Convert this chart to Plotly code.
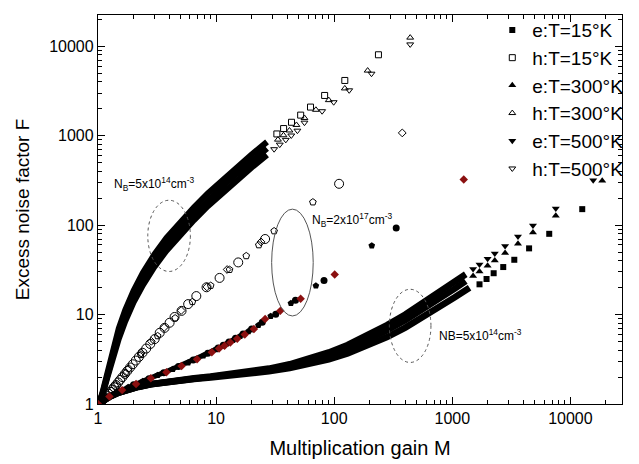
import plotly.graph_objects as go

# ---------------- data ----------------
# N_B = 5e14, electron injection (lower curves). "band" = points so close that the markers merge.
e15_band_M = [1, 1.1, 1.25, 1.5, 1.8, 2.2, 2.8, 3.6, 4.8, 6.5, 9, 13, 19, 28, 42, 62, 90, 130, 190, 280, 400, 560, 780, 1050, 1400]
e15_band_F = [1.0, 1.09, 1.20, 1.34, 1.45, 1.55, 1.66, 1.74, 1.83, 1.90, 1.98, 2.07, 2.17, 2.32, 2.52, 2.78, 3.15, 3.68, 4.45, 5.60, 7.15, 9.25, 12.1, 15.6, 20.0]
e15_M = [1700, 1950, 2240, 2700, 3350, 4470, 6620, 12600]
e15_F = [21.8, 25, 29, 34, 41, 55, 80, 151]

e300_band_M = [1, 1.1, 1.25, 1.5, 1.8, 2.2, 2.8, 3.6, 4.8, 6.5, 9, 13, 19, 28, 42, 62, 90, 130, 190, 280, 400, 560, 780, 1050, 1300]
e300_band_F = [1.0, 1.09, 1.20, 1.34, 1.45, 1.56, 1.66, 1.75, 1.84, 1.92, 2.01, 2.11, 2.23, 2.40, 2.64, 2.99, 3.46, 4.13, 5.13, 6.64, 8.64, 11.3, 15.0, 19.5, 23.7]
e300_M = [1500, 1700, 1990, 2290, 2800, 3600, 4820, 7520, 18600]
e300_F = [27, 30.3, 35.2, 40.2, 48.7, 62, 82.5, 127, 313]

e500_band_M = [1, 1.1, 1.25, 1.5, 1.8, 2.2, 2.8, 3.6, 4.8, 6.5, 9, 13, 19, 28, 42, 62, 90, 130, 190, 280, 400, 560, 780, 1050, 1300]
e500_band_F = [1.0, 1.09, 1.20, 1.34, 1.45, 1.56, 1.67, 1.76, 1.85, 1.94, 2.03, 2.15, 2.29, 2.49, 2.78, 3.20, 3.77, 4.58, 5.79, 7.61, 10.0, 13.3, 17.7, 23.2, 28.2]
e500_M = [1500, 1700, 1990, 2290, 2800, 3600, 4820, 7520, 15600]
e500_F = [32.3, 36.3, 42.2, 48.2, 58.5, 74.7, 99.3, 154, 317]

# N_B = 5e14, hole injection (steep upper curves)
h_band_M = [1, 1.05, 1.1, 1.2, 1.35, 1.5, 1.7, 2.0, 2.4, 3.0, 3.8, 5, 6.5, 8.5, 11, 15, 20, 27]
h15_band_F = [1.0, 1.13, 1.40, 2.30, 4.34, 7.0, 11.2, 18.5, 29.3, 47.0, 71.9, 110.6, 158.8, 227, 311, 446, 616, 853]
h300_band_F = [1.0, 1.12, 1.35, 2.12, 3.86, 6.11, 9.69, 15.9, 25.0, 39.9, 61.0, 93.6, 134, 192, 263, 377, 520, 721]
h500_band_F = [1.0, 1.11, 1.31, 1.98, 3.46, 5.38, 8.42, 13.7, 21.4, 34.1, 51.9, 79.6, 114, 163, 223, 319, 441, 610]
h15_M = [32.7, 37.3, 43.5, 52, 63, 83, 123, 237]
h15_F = [1047, 1203, 1414, 1700, 2090, 2820, 4150, 8040]
h300_M = [33.4, 37.2, 41.8, 47.9, 56, 70, 90, 123, 192, 440]
h300_F = [904, 1012, 1145, 1320, 1580, 1950, 2500, 3380, 5350, 12500]
h500_M = [31, 34.6, 38.9, 43.3, 48.8, 56, 79, 99, 134, 207, 440]
h500_F = [707, 795, 899, 1006, 1139, 1400, 1880, 2370, 3220, 4940, 10500]

# N_B = 2e17, hole injection (open circles / pentagons / diamonds)
hb_circ_M = [1, 1.028, 1.057, 1.088, 1.12, 1.155, 1.19, 1.23, 1.27, 1.32, 1.37, 1.42, 1.48, 1.54, 1.61, 1.69, 1.77, 1.87, 1.97, 2.09, 2.22, 2.38, 2.56, 2.77, 3.02, 3.33, 3.66, 4.04, 4.45, 5.1, 5.8, 6.8, 8.3, 10.7, 15.4, 26, 110]
hb_circ_F = [1, 1.03, 1.06, 1.10, 1.14, 1.19, 1.24, 1.30, 1.37, 1.45, 1.54, 1.63, 1.74, 1.86, 2.0, 2.17, 2.34, 2.56, 2.78, 3.06, 3.36, 3.74, 4.17, 4.69, 5.32, 6.25, 7.1, 8.1, 9.4, 11, 13.1, 16.1, 20.2, 25.7, 38.3, 70, 290]
hb_pent_M = [1, 1.3, 1.7, 2.3, 3.2, 4.5, 6.3, 9, 13, 18, 23, 31, 66]
hb_pent_F = [1, 1.42, 2.19, 3.55, 5.77, 9.13, 13.9, 21.1, 31.8, 45.3, 60, 86, 181]
hb_diam_M = [1, 1.16, 1.42, 1.82, 2.32, 2.83, 3.63, 5.06, 8.35, 12.4, 24, 377]
hb_diam_F = [1, 1.2, 1.65, 2.51, 3.72, 5.03, 7.17, 11.1, 20.4, 31.9, 65, 1075]

# N_B = 2e17, electron injection (filled circles / pentagons / red diamonds)
eb_circ_M = [1, 1.2, 1.5, 2, 2.7, 3.6, 4.8, 6.4, 8.5, 10.4, 11.5, 12.85, 14.6, 16.9, 20, 24.6, 32, 47, 82, 335]
eb_circ_F = [1, 1.18, 1.38, 1.64, 1.92, 2.24, 2.62, 3.10, 3.70, 4.24, 4.55, 4.92, 5.42, 6.05, 6.91, 8.19, 10.1, 14.5, 24, 93]
eb_pent_M = [1, 1.3, 1.8, 2.4, 3.2, 4.3, 5.8, 7.8, 10, 12.3, 13.9, 16, 18.8, 22.8, 29, 43, 70, 208]
eb_pent_F = [1, 1.25, 1.54, 1.80, 2.10, 2.45, 2.90, 3.47, 4.09, 4.72, 5.16, 5.73, 6.50, 7.59, 9.6, 13.4, 21, 59]
eb_diam_M = [1, 1.25, 1.6, 2.1, 2.8, 3.8, 5.1, 6.9, 9.2, 10.6, 11.8, 13.2, 15.1, 17.5, 20.9, 26, 35, 52, 101, 1250]
eb_diam_F = [1, 1.21, 1.43, 1.67, 1.94, 2.27, 2.66, 3.17, 3.79, 4.17, 4.49, 4.86, 5.36, 5.99, 6.88, 8.9, 11, 15, 28, 324]

x_ticks = [1, 10, 100, 1000, 10000]
y_ticks = [1, 10, 100, 1000, 10000]
legend_names = ["e:T=15°K", "h:T=15°K", "e:T=300°K", "h:T=300°K", "e:T=500°K", "h:T=500°K"]

# ---------------- figure ----------------
FONT = "Arial, Liberation Sans, sans-serif"
BLACK = "black"
RED = "#8b1010"
fig = go.Figure()


def band(xs, ys, width, color=BLACK):
    fig.add_trace(go.Scatter(x=xs, y=ys, mode="lines", line=dict(color=color, width=width),
                             showlegend=False, hoverinfo="skip"))


def pts(xs, ys, symbol, size, color=BLACK, name=None, rank=None, lw=1):
    open_ = symbol.endswith("-open")
    fig.add_trace(go.Scatter(
        x=xs, y=ys, mode="markers", name=name, showlegend=name is not None,
        legendrank=rank if rank else 1000,
        marker=dict(symbol=symbol, size=size, color=color,
                    line=dict(color=color, width=lw if open_ else 0))))


# dense bands
band(h_band_M, h15_band_F, 6)
band(h_band_M, h300_band_F, 6)
band(h_band_M, h500_band_F, 6)
band(e15_band_M, e15_band_F, 6.5)
band(e300_band_M, e300_band_F, 6.5)
band(e500_band_M, e500_band_F, 6.5)
band(eb_circ_M[:10], eb_circ_F[:10], 5)

# N_B = 2e17 series
pts(hb_circ_M, hb_circ_F, "circle-open", 9)
pts(hb_pent_M, hb_pent_F, "pentagon-open", 7)
pts(hb_diam_M, hb_diam_F, "diamond-open", 6)
pts(eb_circ_M, eb_circ_F, "circle", 7)
pts(eb_pent_M, eb_pent_F, "pentagon", 7)
pts(eb_diam_M, eb_diam_F, "diamond", 6.5, color=RED)

# N_B = 5e14 series (legend)
pts(e15_M, e15_F, "square", 6, name=legend_names[0], rank=1)
pts(h15_M, h15_F, "square-open", 6, name=legend_names[1], rank=2)
pts(e300_M, e300_F, "triangle-up", 7, name=legend_names[2], rank=3)
pts(h300_M, h300_F, "triangle-up-open", 6, name=legend_names[3], rank=4)
pts(e500_M, e500_F, "triangle-down", 7, name=legend_names[4], rank=5)
pts(h500_M, h500_F, "triangle-down-open", 6, name=legend_names[5], rank=6)

axis_common = dict(type="log", showgrid=False, zeroline=False, showline=True, linecolor=BLACK,
                   linewidth=1.3, mirror="ticks", ticks="inside", ticklen=7, tickwidth=1,
                   tickcolor=BLACK, tickfont=dict(size=16, color=BLACK, family=FONT),
                   exponentformat="none", automargin=False,
                   minor=dict(ticks="inside", ticklen=4, tickwidth=1, tickcolor=BLACK, dtick="D1"))

fig.update_xaxes(**axis_common, range=[0, 4.437], tickvals=x_ticks, ticktext=[str(v) for v in x_ticks],
                 title=dict(text="Multiplication gain M", font=dict(size=20, family=FONT, color=BLACK), standoff=14))
fig.update_yaxes(**axis_common, range=[0, 4.35], tickvals=y_ticks, ticktext=[str(v) for v in y_ticks],
                 title=dict(text="Excess noise factor F", font=dict(size=19, family=FONT, color=BLACK), standoff=14))

ann_font = dict(size=12, family=FONT, color=BLACK)
ann_common = dict(xref="paper", yref="paper", showarrow=False, font=ann_font,
                  xanchor="center", yanchor="middle")
fig.add_annotation(x=0.1064, y=0.5645, text="N<sub>B</sub>=5x10<sup>14</sup>cm<sup>-3</sup>", **ann_common)
fig.add_annotation(x=0.4842, y=0.4729, text="N<sub>B</sub>=2x10<sup>17</sup>cm<sup>-3</sup>", **ann_common)
fig.add_annotation(x=0.7298, y=0.178, text="NB=5x10<sup>14</sup>cm<sup>-3</sup>", **ann_common)

fig.add_shape(type="circle", xref="paper", yref="paper", x0=0.0950, x1=0.1763, y0=0.3407, y1=0.5238,
              line=dict(color="#555555", width=1, dash="dot"))
fig.add_shape(type="circle", xref="paper", yref="paper", x0=0.3314, x1=0.4107, y0=0.2263, y1=0.5009,
              line=dict(color="#555555", width=1))
fig.add_shape(type="circle", xref="paper", yref="paper", x0=0.556, x1=0.6354, y0=0.1068, y1=0.2949,
              line=dict(color="#555555", width=1, dash="dot"))

fig.update_layout(
    template="none",
    width=639, height=464, autosize=False,
    margin=dict(l=98, r=12, t=11, b=60),
    paper_bgcolor="white", plot_bgcolor="white",
    font=dict(family=FONT, color=BLACK),
    legend=dict(x=1.012, xanchor="right", y=1.01, yanchor="top", bgcolor="rgba(0,0,0,0)",
                font=dict(size=19, family=FONT, color=BLACK), itemwidth=30, tracegroupgap=0,
                borderwidth=0),
)

fig.write_html("out.html")
